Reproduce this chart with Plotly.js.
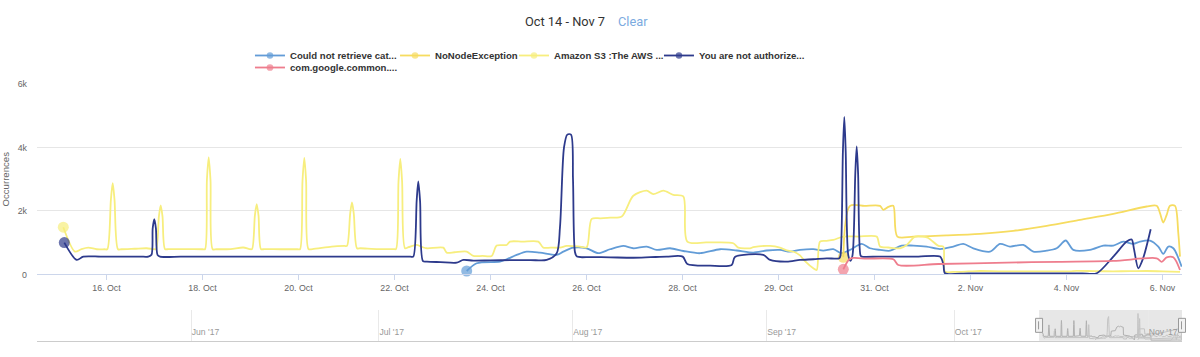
<!DOCTYPE html>
<html>
<head>
<meta charset="utf-8">
<script src="https://cdn.plot.ly/plotly-3.0.1.min.js"></script>
<style>html,body{margin:0;padding:0;background:#fff}#chart{width:1200px;height:357px}</style>
</head>
<body>
<div id="chart"></div>
<script>
// ---------- DATA (time = hours since 2017-10-14 00:00 UTC) ----------
const startDateUTC = Date.UTC(2017, 9, 14);
const viewStartH = 13.25;   // left edge of the zoomed window
const viewEndH = 561.75;    // right edge of the zoomed window
const navStart = '2017-05-07 08:00';

// ordinal axis ticks (hours of each labelled day)
const tickHours  = [48, 96, 144, 192, 240, 288, 336, 360, 408, 456, 504, 552];
const tickLabels = ['16. Oct','18. Oct','20. Oct','22. Oct','24. Oct','26. Oct','28. Oct','29. Oct','31. Oct','2. Nov','4. Nov','6. Nov'];

const yTickVals = [0, 2000, 4000, 6000];
const yTickText = ['0', '2k', '4k', '6k'];

const seriesNames = ['Could not retrieve cat...', 'NoNodeException', 'Amazon S3 :The AWS ...', 'You are not authorize...', 'com.google.common....'];
const seriesColors = ['#629cd7', '#f6dc60', '#f7ee7e', '#2d3a8c', '#ee7d8d'];

const couldNotHours = [228.1, 233.1, 244.75, 248.1, 253.1, 258.1, 264.75, 273.1, 276.4, 281.4, 288.1, 293.9, 299.75, 306.4, 311.4, 318.1, 323.1, 329.75, 336.2, 340.4, 345.4, 349.55, 353.7, 357.05, 360.75, 365.75, 370.75, 377.4, 382.4, 387.4, 391.6, 395.75, 401.6, 405.75, 410.75, 415.75, 421.6, 427.4, 434.1, 440.75, 447.4, 452.4, 457.4, 465.75, 470.75, 475.75, 482.4, 487.4, 494.1, 499.1, 503.6, 507.4, 515.75, 522.4, 527.4, 532.4, 537.4, 540.75, 545.75, 549.9, 552.4, 554.9, 557.4, 561.6];
const couldNotVals  = [110, 354, 405, 480, 616, 720, 690, 616, 720, 846, 826, 670, 795, 900, 826, 880, 775, 826, 740, 670, 795, 755, 690, 755, 775, 720, 775, 800, 750, 800, 670, 775, 963, 826, 775, 750, 910, 910, 880, 800, 880, 963, 826, 720, 963, 880, 930, 720, 750, 826, 1070, 775, 775, 910, 910, 1036, 963, 1036, 1070, 880, 650, 880, 826, 246];

const noNodeHours = [392.4, 395.75, 403, 410.75, 412.4, 414.9, 417.4, 419.4, 427.4, 444, 460.75, 477.4, 494.1, 510.75, 527.4, 544.1, 549.1, 550.75, 552.4, 554.1, 555.75, 558.25, 559.9, 560.75];
const noNodeVals  = [543, 2163, 2163, 2163, 2036, 2130, 2163, 1194, 1194, 1230, 1280, 1374, 1532, 1721, 1910, 2142, 2163, 1932, 1637, 1880, 2163, 2163, 1300, 563];

const amazonHours = [26.4, 32.25, 35.5, 38.9, 43.1, 47, 48.4, 50.2, 51.1, 52.0, 53.75, 55.5, 62, 68.1, 71.3, 72.75, 74.2, 75.1, 76.0, 77.25, 79, 88, 96, 97.25, 98.2, 99.1, 100.0, 101.1, 103, 110, 116.4, 119.5, 120.75, 122.2, 123.1, 124.0, 125.25, 127, 135, 143.5, 144.75, 146.0, 146.9, 147.8, 149, 151, 160.6, 167, 168.25, 169.85, 170.75, 171.65, 173.25, 175, 184, 191.5, 192.75, 194.0, 194.9, 195.8, 197.25, 199, 203.1, 206, 208.25, 216.4, 218.1, 222, 228.1, 231.4, 236, 240.6, 243.1, 248.1, 249.75, 256, 263.9, 266.4, 270, 274.75, 278.1, 284.75, 288.1, 290.6, 295, 299.75, 305.6, 311.4, 318.1, 321.4, 326.4, 331.4, 336.2, 337.2, 342, 348.7, 349.95, 352.9, 353.7, 357.9, 360.75, 364.1, 368.25, 370.75, 373.25, 377.4, 379.1, 380.75, 384, 387.4, 392.4, 400, 409.1, 410.75, 415, 420.75, 424.1, 428.25, 432.4, 434.9, 440, 442.4, 443.25, 447.4, 455, 460.75, 470, 480, 490, 500, 505.75, 509.1, 518, 527.25, 536, 544.1, 552, 560.75];
const amazonVals  = [1490, 720, 800, 846, 795, 795, 795, 2360, 2880, 2360, 795, 795, 810, 826, 800, 800, 1830, 2174, 1830, 800, 800, 800, 795, 795, 2966, 3690, 2966, 795, 795, 800, 850, 800, 800, 1860, 2216, 1860, 800, 800, 795, 795, 795, 2950, 3670, 2950, 800, 800, 880, 900, 900, 1927, 2270, 1909, 826, 826, 800, 800, 800, 2930, 3640, 2930, 826, 860, 930, 860, 826, 846, 690, 700, 720, 585, 585, 585, 910, 930, 1036, 1036, 1036, 846, 846, 846, 900, 880, 860, 1750, 1770, 1790, 1825, 2480, 2640, 2530, 2640, 2510, 2460, 1036, 1010, 985, 846, 826, 860, 900, 846, 760, 700, 600, 420, 196, 142, 1036, 1060, 1090, 1194, 1194, 1194, 880, 850, 826, 932, 1194, 1194, 1150, 900, 880, 90, 80, 95, 110, 100, 100, 100, 100, 100, 115, 105, 100, 105, 110, 100, 80];

const notAuthHours = [26.9, 33.1, 36.4, 45, 55, 65, 68.9, 70.5, 71.1, 71.9, 72.7, 73.5, 74.75, 85, 95, 105, 115, 125, 135, 145, 155, 165, 175, 185, 195, 200, 201.4, 203.1, 203.9, 204.8, 206.25, 208.25, 215, 223.1, 226.4, 231.4, 240, 250, 260, 268.1, 273.1, 274.75, 276.75, 278.4, 280.25, 281.25, 282.25, 283.25, 290, 300, 311.4, 320, 328.1, 336.05, 337.2, 342.9, 348.3, 349.1, 356.2, 357.9, 364.1, 370.75, 377.4, 384.1, 390.4, 391, 392.2, 392.9, 393.6, 394.9, 396, 397, 398.4, 399.1, 399.8, 401, 401.6, 410, 420, 430, 440.75, 442.5, 443.25, 455, 470, 485, 500, 512, 519.1, 527.4, 534.1, 536.6, 537.75, 539.9, 542.25, 546.1];
const notAuthVals  = [1004, 458, 563, 563, 563, 563, 563, 620, 1450, 1743, 1450, 620, 563, 563, 563, 563, 563, 563, 563, 563, 563, 563, 563, 563, 563, 563, 563, 2340, 2930, 2300, 420, 405, 390, 373, 458, 437, 445, 450, 455, 458, 670, 1500, 4000, 4405, 4405, 3000, 700, 563, 550, 540, 527, 545, 563, 563, 331, 280, 300, 550, 616, 458, 405, 458, 480, 510, 510, 600, 3870, 4964, 3870, 600, 430, 600, 3180, 4036, 3180, 600, 563, 563, 563, 563, 563, 300, 38, 38, 38, 38, 38, 38, 38, 563, 1036, 1100, 800, 196, 500, 1427];

const googleHours = [392.4, 395.4, 397.4, 404.1, 417.4, 419.9, 440, 474.1, 500, 527.4, 549.1, 551.6, 554.1, 557.4, 560.75];
const googleVals  = [164, 480, 520, 500, 480, 300, 330, 373, 400, 426, 510, 400, 540, 540, 142];

const seriesHours = [couldNotHours, noNodeHours, amazonHours, notAuthHours, googleHours];
const seriesVals  = [couldNotVals, noNodeVals, amazonVals, notAuthVals, googleVals];

// ---------- SCALES ----------
// ordinal position: evenly spaced between labelled days (like the stock chart's ordinal axis)
function toSlot(h) {
  const n = tickHours.length;
  if (h < tickHours[0]) return (h - tickHours[0]) / (tickHours[1] - tickHours[0]);
  for (let i = 0; i < n - 1; i++) {
    if (h < tickHours[i + 1]) return i + (h - tickHours[i]) / (tickHours[i + 1] - tickHours[i]);
  }
  return (n - 1) + (h - tickHours[n - 1]) / (tickHours[n - 1] - tickHours[n - 2]);
}
function toDate(h) {
  return new Date(startDateUTC + h * 3600000).toISOString().slice(0, 19).replace('T', ' ');
}

// ---------- TRACES ----------
const legendIds = ['legend', 'legend2', 'legend3', 'legend4', 'legend5'];
const traces = [];
seriesNames.forEach((name, i) => {
  const sizes = seriesHours[i].map((_, k) => k === 0 ? 11 : 6.4);
  const mcolors = seriesHours[i].map((_, k) => k === 0 ? seriesColors[i] : 'rgba(0,0,0,0)');
  traces.push({
    type: 'scatter', mode: 'lines+markers', name: name,
    x: seriesHours[i].map(toSlot), y: seriesVals[i],
    line: {color: seriesColors[i], width: 1.8, shape: 'spline', smoothing: 0.8},
    marker: {size: sizes, color: mcolors, line: {width: 0}},
    legend: legendIds[i], xaxis: 'x', yaxis: 'y', hoverinfo: 'skip', cliponaxis: false
  });
});
// navigator (mini series over the whole date range)
seriesNames.forEach((name, i) => {
  traces.push({
    type: 'scatter', mode: 'lines', name: name, showlegend: false,
    x: seriesHours[i].map(toDate), y: seriesVals[i],
    line: {color: i === 2 ? '#b0b0b0' : '#c4c4c4', width: 1},
    xaxis: 'x2', yaxis: 'y2', hoverinfo: 'skip'
  });
});

// ---------- LAYOUT ----------
const legendFont = {family: '"Liberation Sans", Arial, sans-serif', size: 9.6, color: '#333', weight: 'bold'};
function mkLegend(x, y) {
  return {x: x, xanchor: 'left', y: y, yanchor: 'middle', orientation: 'h',
          bgcolor: 'rgba(0,0,0,0)', borderwidth: 0, font: legendFont, itemwidth: 30};
}
const navDomain = [0.024, 0.1407];
const navMid = (navDomain[0] + navDomain[1]) / 2;
const layout = {
  width: 1200, height: 357,
  margin: {l: 37, r: 18, t: 84, b: 10},
  paper_bgcolor: '#ffffff', plot_bgcolor: 'rgba(0,0,0,0)',
  font: {family: '"Liberation Sans", Arial, sans-serif', color: '#666'},
  showlegend: true,
  title: {text: 'Oct 14 - Nov 7', font: {family: 'Roboto, sans-serif', size: 12.8, color: '#333'},
          xref: 'container', x: 525 / 1200, xanchor: 'left', yref: 'container', y: 1 - 22 / 357, yanchor: 'middle'},
  annotations: [{text: 'Clear', xref: 'paper', x: (616 - 37) / 1145, xanchor: 'left', yref: 'paper', y: (347 - 22) / 263,
                 yanchor: 'middle', showarrow: false, font: {family: 'Roboto, sans-serif', size: 12.8, color: '#7cabdf'}}],
  legend: mkLegend(0.1860, 1.1084),
  legend2: mkLegend(0.3127, 1.1084),
  legend3: mkLegend(0.4166, 1.1084),
  legend4: mkLegend(0.5432, 1.1084),
  legend5: mkLegend(0.1860, 1.0627),
  xaxis: {
    type: 'linear', anchor: 'y', domain: [0, 1],
    range: [toSlot(viewStartH), toSlot(viewEndH)],
    tickmode: 'array', tickvals: tickHours.map(toSlot), ticktext: tickLabels,
    showgrid: false, zeroline: false, showline: true, linecolor: '#ccd6eb', linewidth: 1,
    ticks: 'outside', ticklen: 5, tickcolor: '#ccd6eb', tickwidth: 1,
    tickfont: {size: 8.8, color: '#666'}, fixedrange: true
  },
  yaxis: {
    anchor: 'x', domain: [0.2757, 1], range: [0, 6000],
    tickmode: 'array', tickvals: yTickVals, ticktext: yTickText,
    showgrid: true, gridcolor: '#e6e6e6', gridwidth: 1, zeroline: false, showline: false,
    ticks: '', tickfont: {size: 8.8, color: '#666'}, ticklabelstandoff: 9,
    title: {text: 'Occurrences', font: {size: 9.6, color: '#666'}, standoff: 7},
    automargin: false, fixedrange: true
  },
  xaxis2: {
    type: 'date', anchor: 'y2', domain: [0, 1],
    range: [navStart, toDate(viewEndH)],
    tickformat: "%b '%y", dtick: 'M1', tick0: '2017-06-01',
    ticklabelposition: 'inside right', ticks: '',
    showgrid: true, gridcolor: '#e9e9e9', gridwidth: 1,
    showline: true, linecolor: '#cccccc', linewidth: 1, zeroline: false,
    tickfont: {size: 8.6, color: '#999'}, fixedrange: true
  },
  yaxis2: {anchor: 'x2', domain: navDomain, range: [0, 5600], visible: false, fixedrange: true},
  shapes: [
    {type: 'rect', xref: 'x2', yref: 'paper', x0: toDate(viewStartH), x1: toDate(viewEndH), y0: navDomain[0], y1: navDomain[1],
     fillcolor: 'rgba(170,170,170,0.28)', line: {width: 0}, layer: 'below'},
    {type: 'rect', xref: 'x2', xsizemode: 'pixel', xanchor: toDate(viewStartH), x0: -3.5, x1: 3.5,
     yref: 'paper', ysizemode: 'pixel', yanchor: navMid, y0: -7, y1: 7,
     fillcolor: '#f2f2f2', line: {color: '#999', width: 1}, layer: 'above'},
    {type: 'line', xref: 'x2', xsizemode: 'pixel', xanchor: toDate(viewStartH), x0: -0.5, x1: -0.5,
     yref: 'paper', ysizemode: 'pixel', yanchor: navMid, y0: -4, y1: 4,
     line: {color: '#999', width: 1}, layer: 'above'},
    {type: 'rect', xref: 'paper', xsizemode: 'pixel', xanchor: 1, x0: -3.5, x1: 3.5,
     yref: 'paper', ysizemode: 'pixel', yanchor: navMid, y0: -7, y1: 7,
     fillcolor: '#f2f2f2', line: {color: '#999', width: 1}, layer: 'above'},
    {type: 'line', xref: 'paper', xsizemode: 'pixel', xanchor: 1, x0: -0.5, x1: -0.5,
     yref: 'paper', ysizemode: 'pixel', yanchor: navMid, y0: -4, y1: 4,
     line: {color: '#999', width: 1}, layer: 'above'}
  ]
};

Plotly.newPlot('chart', traces, layout, {displayModeBar: false, responsive: false});
</script>
</body>
</html>
